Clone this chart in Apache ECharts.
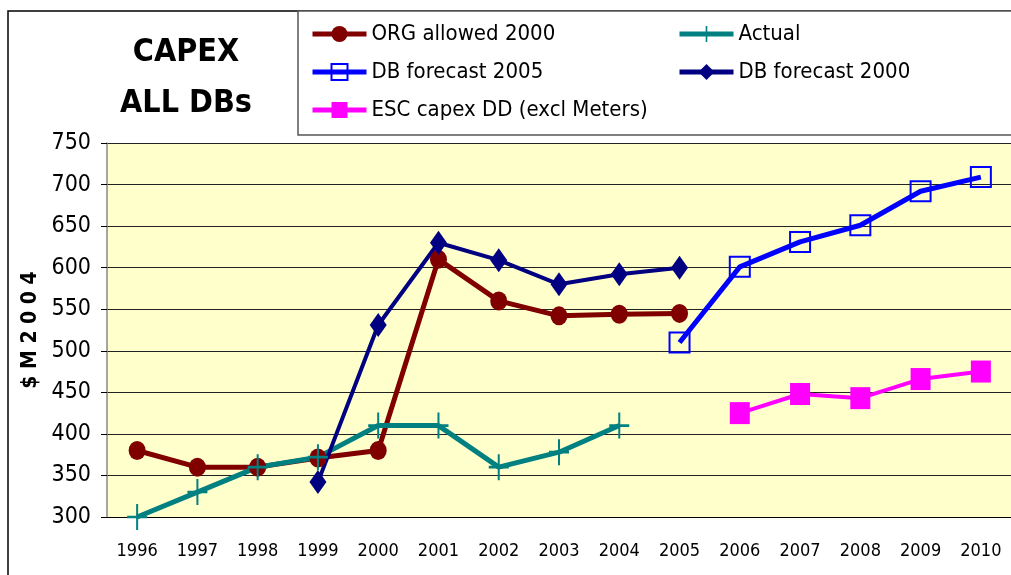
<!DOCTYPE html>
<html>
<head>
<meta charset="UTF-8">
<title>capex</title>
<script src="https://cdn.jsdelivr.net/npm/echarts@6/dist/echarts.min.js"></script>
<style>
  html, body { margin: 0; padding: 0; background: #fff; }
  #chart { width: 1011px; height: 575px; }
</style>
</head>
<body>
<div id="chart"></div>
<script>
// data
var years = ['1996','1997','1998','1999','2000','2001','2002','2003','2004','2005','2006','2007','2008','2009','2010'];
var orgAllowed2000 = [380, 360, 360, 371, 380, 610, 560, 542, 544, 545, null, null, null, null, null];
var actual = [300, 330, 360, 372, 410, 410, 360, 378, 410, null, null, null, null, null, null];
var dbForecast2005 = [null, null, null, null, null, null, null, null, null, 510, 601, 631, 651, 692, 709];
var dbForecast2000 = [null, null, null, 342, 531, 630, 609, 580, 592, 600, null, null, null, null, null];
var escCapexDD = [null, null, null, null, null, null, null, null, null, null, 425, 448, 443, 466, 475];

var narrow = "'Liberation Sans Narrow', 'Arial Narrow', 'DejaVu Sans Condensed', sans-serif";

var myChart = echarts.init(document.getElementById('chart'));

var option = {
  backgroundColor: '#fff',
  animation: false,
  textStyle: { fontFamily: narrow },
  title: {
    text: 'CAPEX\nALL DBs',
    left: 186,
    top: 27,
    padding: 0,
    textAlign: 'center',
    textStyle: { fontFamily: narrow, fontSize: 32, fontWeight: 'bold', color: '#000', lineHeight: 51 }
  },
  graphic: [
    { type: 'rect', shape: { x: 8, y: 11, width: 1020, height: 580 }, style: { fill: 'none', stroke: '#000', lineWidth: 1.5 }, z: -1 },
    { type: 'rect', shape: { x: 298, y: 11, width: 730, height: 124 }, style: { fill: '#fff', stroke: '#555', lineWidth: 1.5 }, z: -1 }
  ],
  legend: [
    {
      orient: 'vertical',
      left: 310, top: 23, padding: 0,
      itemWidth: 54, itemHeight: 20, itemGap: 16,
      lineStyle: { width: 5 },
      textStyle: { fontFamily: narrow, fontSize: 22, color: '#000' },
      data: ['ORG allowed 2000', 'DB forecast 2005', 'ESC capex DD (excl Meters)']
    },
    {
      orient: 'vertical',
      left: 677, top: 23, padding: 0,
      itemWidth: 54, itemHeight: 20, itemGap: 16,
      lineStyle: { width: 5 },
      textStyle: { fontFamily: narrow, fontSize: 22, color: '#000' },
      data: ['Actual', 'DB forecast 2000']
    }
  ],
  grid: {
    left: 107, top: 143, width: 921, height: 374,
    show: true, backgroundColor: '#FFFFCC', borderWidth: 0
  },
  xAxis: {
    type: 'category',
    data: years,
    boundaryGap: true,
    axisLine: { lineStyle: { color: '#000', width: 1 } },
    axisTick: { length: 6, lineStyle: { color: '#555' } },
    axisLabel: { interval: 0, margin: 25, fontFamily: narrow, fontSize: 18, color: '#000' }
  },
  yAxis: {
    type: 'value',
    min: 300, max: 750, interval: 50,
    name: '$ M 2 0 0 4',
    nameLocation: 'middle',
    nameRotate: 90,
    nameGap: 51,
    nameTextStyle: { fontFamily: narrow, fontSize: 21, fontWeight: 'bold', color: '#000' },
    axisLine: { show: true, lineStyle: { color: '#888', width: 1.5 } },
    axisTick: { show: true, length: 6, lineStyle: { color: '#000' } },
    axisLabel: { margin: 16, fontFamily: narrow, fontSize: 23, color: '#000' },
    splitLine: { lineStyle: { color: '#222', width: 1 } }
  },
  series: [
    {
      name: 'ORG allowed 2000', type: 'line', data: orgAllowed2000,
      symbol: 'circle', symbolSize: [17, 19],
      lineStyle: { color: '#800000', width: 5 },
      itemStyle: { color: '#800000' }
    },
    {
      name: 'DB forecast 2005', type: 'line', data: dbForecast2005,
      symbol: 'rect', symbolSize: 20,
      lineStyle: { color: '#0000FF', width: 5 },
      itemStyle: { color: 'rgba(0,0,0,0)', borderColor: '#0000FF', borderWidth: 2 }
    },
    {
      name: 'ESC capex DD (excl Meters)', type: 'line', data: escCapexDD,
      symbol: 'rect', symbolSize: [20, 22],
      lineStyle: { color: '#FF00FF', width: 4 },
      itemStyle: { color: '#FF00FF' }
    },
    {
      name: 'Actual', type: 'line', data: actual,
      symbol: 'path://M-1,-10 L1,-10 L1,10 L-1,10 Z M-10,-1 L10,-1 L10,1 L-10,1 Z',
      symbolSize: [20, 26],
      lineStyle: { color: '#008080', width: 5 },
      itemStyle: { color: '#008080' }
    },
    {
      name: 'DB forecast 2000', type: 'line', data: dbForecast2000,
      symbol: 'diamond', symbolSize: [17, 24],
      lineStyle: { color: '#000080', width: 4 },
      itemStyle: { color: '#000080' }
    }
  ]
};

myChart.setOption(option);
</script>
</body>
</html>
